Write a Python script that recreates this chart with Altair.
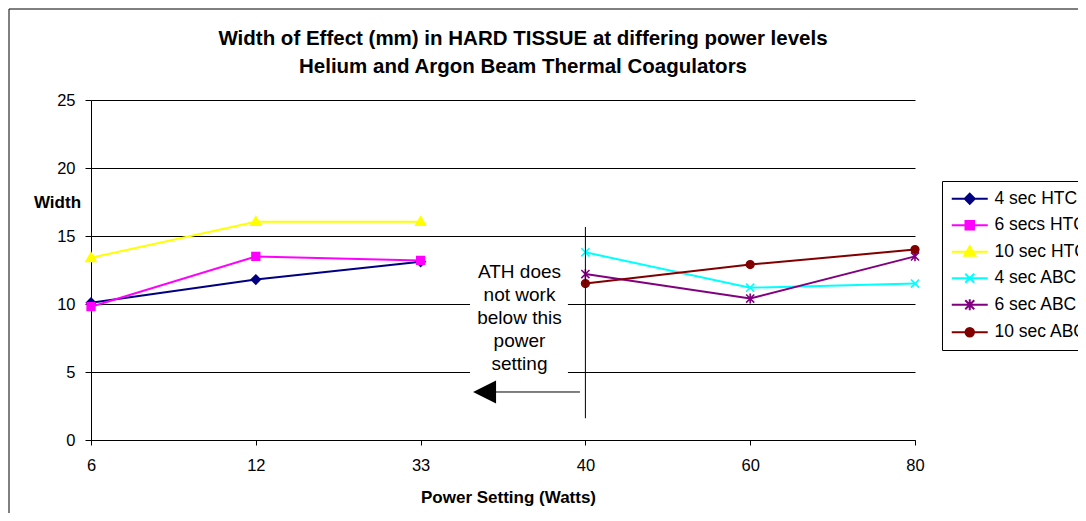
import json
import altair as alt
import pandas as pd

# ---------------- data ----------------
categories = ["6", "12", "33", "40", "60", "80"]
series_names = ["4 sec HTC", "6 secs HTC", "10 sec HTC", "4 sec ABC", "6 sec ABC", "10 sec ABC"]
htc_power = ["6", "12", "33"]
abc_power = ["40", "60", "80"]
htc_4 = [10.1, 11.8, 13.1]
htc_6 = [9.8, 13.5, 13.2]
htc_10 = [13.4, 16.05, 16.05]
abc_4 = [13.8, 11.2, 11.5]
abc_6 = [12.2, 10.4, 13.5]
abc_10 = [11.5, 12.9, 14.0]
colors = ["#000080", "#FF00FF", "#FFFF00", "#00FFFF", "#800080", "#800000"]
y_ticks = [0, 5, 10, 15, 20, 25]
annotation_lines = ["ATH does", "not work", "below this", "power", "setting"]

# marker shapes (unit paths)
markers = [
    "M0,-1L1,0L0,1L-1,0Z",                       # diamond
    "M-0.85,-0.85L0.85,-0.85L0.85,0.85L-0.85,0.85Z",  # square
    "M0,-1.1L1.1,0.8L-1.1,0.8Z",                 # triangle
    "M-0.9,-0.9L0.9,0.9M-0.9,0.9L0.9,-0.9",      # x
    "M-0.9,-0.9L0.9,0.9M-0.9,0.9L0.9,-0.9M0,-1.1L0,1.1",  # asterisk
    "M0.85,0A0.85,0.85,0,1,1,-0.85,0A0.85,0.85,0,1,1,0.85,0Z",  # circle
]
legend_markers = ["M-3.6,0L3.6,0" + m for m in markers]

rows = []
for name, powers, vals in [
    (series_names[0], htc_power, htc_4),
    (series_names[1], htc_power, htc_6),
    (series_names[2], htc_power, htc_10),
    (series_names[3], abc_power, abc_4),
    (series_names[4], abc_power, abc_6),
    (series_names[5], abc_power, abc_10),
]:
    for p, v in zip(powers, vals):
        rows.append({"series": name, "pos": categories.index(p), "width": v})
df = pd.DataFrame(rows)

FONT = "Liberation Sans"
label_expr = json.dumps(categories) + "[datum.value]"

x_enc = alt.X(
    "pos:Q",
    scale=alt.Scale(domain=[0, len(categories) - 1], nice=False, zero=False),
    axis=alt.Axis(
        values=list(range(len(categories))), labelExpr=label_expr, grid=False,
        labelFlush=False, labelOverlap=False,
        title="Power Setting (Watts)", titleX=417, titleY=57, titleAlign="center",
        titleBaseline="middle", tickSize=5, labelPadding=12,
    ),
)
y_enc = alt.Y(
    "width:Q",
    scale=alt.Scale(domain=[0, 25], nice=False),
    axis=alt.Axis(
        values=y_ticks, grid=True, title="Width", titleAngle=0, titleX=-34, titleY=102,
        titleAlign="center", titleBaseline="middle", tickSize=6, labelPadding=10,
        labelFlush=False,
    ),
)

base = alt.Chart(df)

lines = base.mark_line(strokeWidth=2).encode(
    x=x_enc, y=y_enc,
    color=alt.Color("series:N", scale=alt.Scale(domain=series_names, range=colors), legend=None),
    detail="series:N",
)

points = base.mark_point(filled=True, size=81, strokeWidth=1.6, opacity=1).encode(
    x="pos:Q", y="width:Q",
    fill=alt.Fill("series:N", scale=alt.Scale(domain=series_names, range=colors), legend=None),
    stroke=alt.Stroke("series:N", scale=alt.Scale(domain=series_names, range=colors), legend=None),
    shape=alt.Shape("series:N", scale=alt.Scale(domain=series_names, range=markers), legend=None),
)

leg = alt.Legend(
    title=None, orient="none", legendX=851, legendY=81, strokeColor="black",
    fillColor="white", padding=9, labelFont=FONT, labelFontSize=17.5, labelColor="black",
    symbolStrokeWidth=2, symbolSize=100, symbolOpacity=1, rowPadding=7.5,
    labelOffset=16, symbolOffset=10, labelLimit=300,
)
legend_layer = base.transform_filter("false").mark_point(filled=True, size=100).encode(
    x="pos:Q", y="width:Q",
    fill=alt.Fill("series:N", scale=alt.Scale(domain=series_names, range=colors), legend=leg),
    stroke=alt.Stroke("series:N", scale=alt.Scale(domain=series_names, range=colors), legend=leg),
    shape=alt.Shape("series:N", scale=alt.Scale(domain=series_names, range=legend_markers), legend=leg),
)

# annotation
ann = alt.Data(values=[{
    "tx": 2.6, "ty": 12.35, "txt": "\n".join(annotation_lines),
    "bx": 2.30, "bx2": 2.894, "by": 4.56, "by2": 13.4,
    "vx": 3, "vy": 1.6, "vy2": 15.66,
    "ax": 2.388, "ax2": 2.967, "ay": 3.53,
}])
ann_box = alt.Chart(ann).mark_rect(fill="white").encode(
    x="bx:Q", x2="bx2:Q", y="by:Q", y2="by2:Q")
ann_text = alt.Chart(ann).mark_text(
    font=FONT, fontSize=19, lineHeight=23, lineBreak="\n", align="center",
    baseline="middle", color="black").encode(x="tx:Q", y="ty:Q", text="txt:N")
ann_vline = alt.Chart(ann).mark_rule(color="black", strokeWidth=1).encode(
    x="vx:Q", y="vy:Q", y2="vy2:Q")
ann_shaft = alt.Chart(ann).mark_rule(color="black", strokeWidth=1).encode(
    x="ax:Q", x2="ax2:Q", y="ay:Q")
ann_head = alt.Chart(ann).mark_point(
    shape="M-1,0L1,-1L1,1Z", size=529, filled=True, color="black", opacity=1).encode(
    x="ax:Q", y="ay:Q")

frame = alt.Chart(alt.Data(values=[{"a": 1}])).mark_rect(
    fill=None, stroke="black", strokeWidth=1, clip=False).encode(
    x=alt.value(-82), x2=alt.value(1100), y=alt.value(-91), y2=alt.value(600))

chart = alt.layer(
    frame, ann_box, lines, points, legend_layer, ann_text, ann_vline, ann_shaft, ann_head
).resolve_scale(
    color="independent", fill="independent", stroke="independent", shape="independent"
).properties(
    width=824, height=340,
    autosize=alt.AutoSizeParams(type="none"),
    padding={"left": 83, "top": 92, "right": 163, "bottom": 73},
    title=alt.Title(
        ["Width of Effect (mm) in HARD TISSUE at differing power levels",
         "Helium and Argon Beam Thermal Coagulators"],
        font=FONT, fontSize=20.5, fontWeight="bold", color="black", anchor="middle",
        frame="group", dx=20, offset=-69, lineHeight=28,
    ),
).configure_view(stroke=None).configure_axis(
    labelFont=FONT, labelFontSize=16.5, labelColor="black", titleFont=FONT,
    titleFontSize=17, titleFontWeight="bold", titleColor="black",
    domainColor="black", tickColor="black", gridColor="black", gridWidth=1,
    domainWidth=1, gridOpacity=1,
)

chart.save("out.html", embed_options={"renderer": "svg", "actions": False})
